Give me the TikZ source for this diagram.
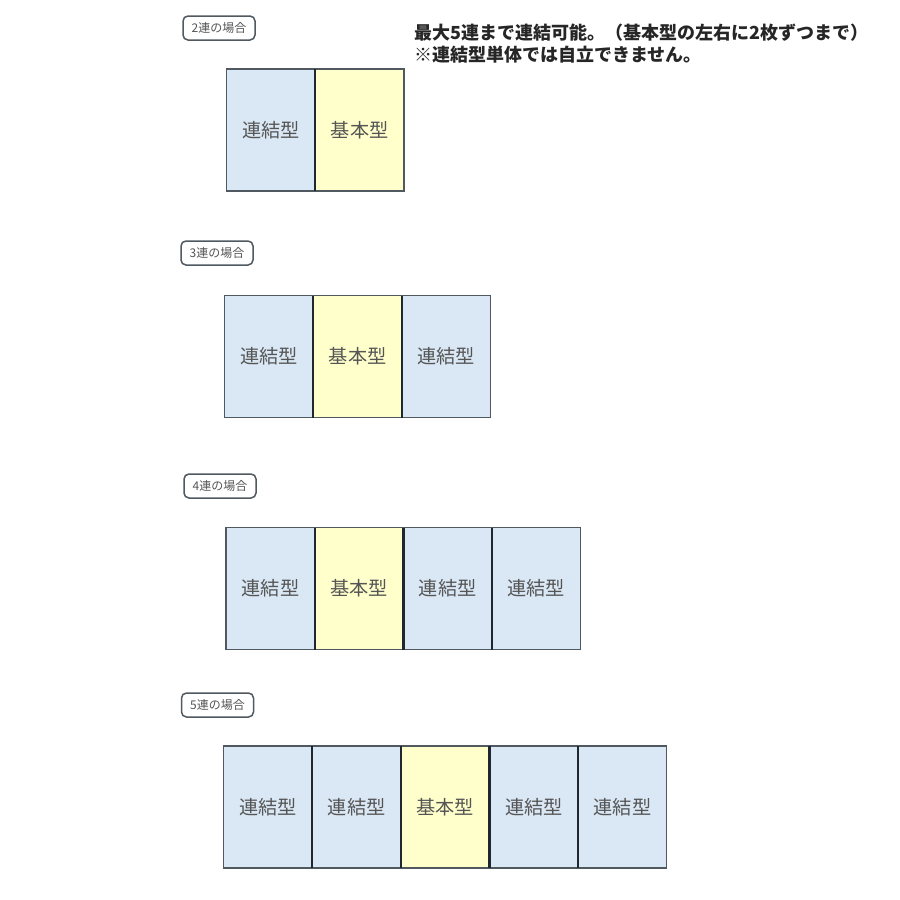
\documentclass[tikz,border=0pt]{standalone}
\usepackage{fontspec}
\setmainfont{Noto Sans CJK JP}
\usetikzlibrary{positioning}
\definecolor{renketsu}{HTML}{DAE8F5}
\definecolor{kihon}{HTML}{FFFFCC}
\definecolor{waku}{HTML}{505860}
\definecolor{sakai}{HTML}{1E282E}
\definecolor{moji}{HTML}{555555}

\begin{document}
\begin{tikzpicture}[x=0.5pt, y=-0.5pt, node distance=0pt,
  unit/.style = {rectangle, draw=waku, line width=0.75pt, minimum width=44.3pt, minimum height=61pt, outer sep=0pt, inner sep=0pt, text=moji, font=\fontsize{9.6}{11}\selectfont},
  ren/.style = {unit, fill=renketsu},
  kih/.style = {unit, fill=kihon},
  divider/.style = {draw=sakai, line width=1.1pt},
  tag/.style = {rectangle, rounded corners=2.5pt, draw=waku, line width=0.75pt, minimum width=36pt, minimum height=12pt, inner sep=0pt, text=moji, font=\fontsize{6}{7}\selectfont},
  note/.style = {anchor=west, inner sep=0pt, text=black!85, font=\fontsize{9}{10}\selectfont\bfseries}]
  \useasboundingbox (0,0) rectangle (900,900);
  \fill[white] (0,0) rectangle (900,900);

  % note
  \node[note] (note1) at (414,33) {最大5連まで連結可能。（基本型の左右に2枚ずつまで）};
  \node[note] (note2) at (414,55) {※連結型単体では自立できません。};

  % 2 units
  \node[tag] (t2) at (219,28) {2連の場合};
  \node[ren] (a1) at (271,130) {連結型};
  \node[kih] (a2) [right=of a1] {基本型};
  \draw[divider] (a1.north east) -- (a1.south east);

  % 3 units
  \node[tag] (t3) at (217,253) {3連の場合};
  \node[ren] (b1) at (269,356.5) {連結型};
  \node[kih] (b2) [right=of b1] {基本型};
  \node[ren] (b3) [right=of b2] {連結型};
  \foreach \u in {b1,b2}
    \draw[divider] (\u.north east) -- (\u.south east);

  % 4 units
  \node[tag] (t4) at (220,486) {4連の場合};
  \node[ren] (c1) at (270.5,588.5) {連結型};
  \node[kih] (c2) [right=of c1] {基本型};
  \node[ren] (c3) [right=of c2] {連結型};
  \node[ren] (c4) [right=of c3] {連結型};
  \foreach \u in {c1,c2,c3}
    \draw[divider] (\u.north east) -- (\u.south east);

  % 5 units
  \node[tag] (t5) at (217.5,705) {5連の場合};
  \node[ren] (d1) at (268,807) {連結型};
  \node[ren] (d2) [right=of d1] {連結型};
  \node[kih] (d3) [right=of d2] {基本型};
  \node[ren] (d4) [right=of d3] {連結型};
  \node[ren] (d5) [right=of d4] {連結型};
  \foreach \u in {d1,d2,d3,d4}
    \draw[divider] (\u.north east) -- (\u.south east);
\end{tikzpicture}
\end{document}
